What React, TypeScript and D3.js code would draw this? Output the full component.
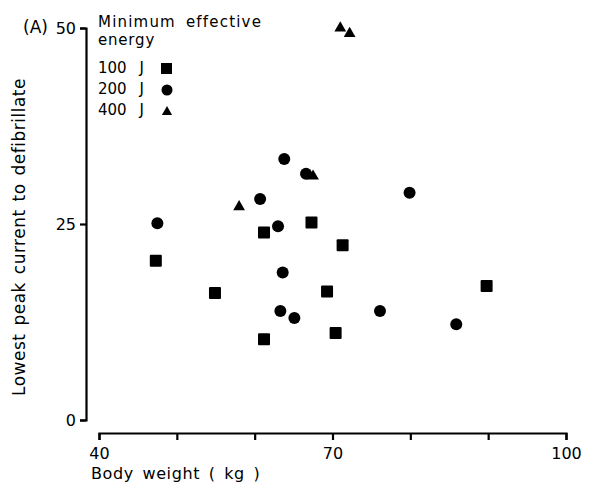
import { useEffect, useRef } from 'react';
import * as d3 from 'd3';

// Body weight (kg) and lowest peak current, per minimum effective energy
const weight100 = [47.3, 54.9, 61.2, 61.2, 67.3, 69.3, 70.4, 71.3, 89.8];
const current100 = [20.3, 16.2, 23.9, 10.3, 25.2, 16.4, 11.1, 22.3, 17.1];

const weight200 = [47.5, 60.7, 63.0, 63.6, 63.3, 63.8, 65.1, 66.6, 76.1, 79.9, 85.9];
const current200 = [25.1, 28.2, 24.7, 18.8, 13.9, 33.3, 13.0, 31.4, 13.9, 29.0, 12.2];

const weight400 = [58.0, 67.5, 71.0, 72.2];
const current400 = [27.2, 31.1, 50.0, 49.3];

const xTicks = [40, 50, 60, 70, 80, 90, 100];
const xLabels = [40, 70, 100];
const yTicks = [0, 25, 50];

const legendItems = ['100 J', '200 J', '400 J'];

const font = '"DejaVu Sans", sans-serif';

const Chart = () => {
  const svgRef = useRef<SVGSVGElement>(null);

  useEffect(() => {
    const width = 593;
    const height = 484;

    const svg = d3.select(svgRef.current)
      .attr('width', width)
      .attr('height', height)
      .style('background-color', '#ffffff');

    svg.selectAll('*').remove();

    const x = d3.scaleLinear().domain([40, 100]).range([99, 566]);
    const y = d3.scaleLinear().domain([0, 50]).range([420, 28]);

    // X axis
    const xAxis = svg.append('g')
      .attr('transform', 'translate(0, 433)')
      .call(d3.axisBottom(x).tickValues(xTicks).tickSize(7).tickSizeOuter(7)
        .tickFormat((d) => (xLabels.includes(+d) ? String(d) : '')));
    xAxis.selectAll('path, line').attr('stroke', '#000').attr('stroke-width', 2.2);
    xAxis.selectAll('text')
      .attr('y', 15)
      .style('font-family', font)
      .style('font-size', '16px')
      .attr('fill', '#000');

    // Y axis
    const yAxis = svg.append('g')
      .attr('transform', 'translate(86, 0)')
      .call(d3.axisLeft(y).tickValues(yTicks).tickSize(6).tickSizeOuter(6));
    yAxis.selectAll('path, line').attr('stroke', '#000').attr('stroke-width', 2.2);
    yAxis.selectAll('text')
      .attr('x', -10)
      .style('font-family', font)
      .style('font-size', '16px')
      .attr('fill', '#000');

    // Panel label
    svg.append('text')
      .attr('x', 23)
      .attr('y', 33)
      .style('font-family', font)
      .style('font-size', '17px')
      .text('(A)');

    // Markers
    const g = svg.append('g');
    g.selectAll('.sq')
      .data(weight100)
      .enter()
      .append('rect')
      .attr('x', (d) => x(d) - 6)
      .attr('y', (d, i) => y(current100[i]) - 6)
      .attr('width', 12)
      .attr('height', 12)
      .attr('rx', 1)
      .attr('fill', '#000');

    g.selectAll('.ci')
      .data(weight200)
      .enter()
      .append('circle')
      .attr('cx', (d) => x(d))
      .attr('cy', (d, i) => y(current200[i]))
      .attr('r', 6)
      .attr('fill', '#000');

    const tri = d3.symbol().type(d3.symbolTriangle).size(60);
    g.selectAll('.tr')
      .data(weight400)
      .enter()
      .append('path')
      .attr('d', tri)
      .attr('transform', (d, i) => `translate(${x(d)},${y(current400[i])})`)
      .attr('fill', '#000');

    // Legend
    const legend = svg.append('g')
      .style('font-family', font)
      .style('font-size', '15px');
    legend.append('text').attr('x', 98).attr('y', 27).text('Minimum effective')
      .style('letter-spacing', '1.2px').style('word-spacing', '4px');
    legend.append('text').attr('x', 98).attr('y', 45).text('energy').style('letter-spacing', '0.8px');
    legendItems.forEach((label, i) => {
      const ly = 68 + i * 21;
      legend.append('text').attr('x', 98).attr('y', ly + 5).text(label).style('word-spacing', '8px');
      if (i === 0) {
        legend.append('rect').attr('x', 161).attr('y', ly - 5).attr('width', 11).attr('height', 11).attr('fill', '#000');
      } else if (i === 1) {
        legend.append('circle').attr('cx', 167).attr('cy', ly + 1).attr('r', 5.5).attr('fill', '#000');
      } else {
        legend.append('path').attr('d', d3.symbol().type(d3.symbolTriangle).size(45)).attr('transform', `translate(167,${ly + 2})`).attr('fill', '#000');
      }
    });

    // Axis titles
    svg.append('text')
      .attr('x', 91)
      .attr('y', 479)
      .style('font-family', font)
      .style('font-size', '16px')
      .style('letter-spacing', '0.6px')
      .style('word-spacing', '3px')
      .text('Body weight ( kg )');

    svg.append('text')
      .attr('text-anchor', 'middle')
      .attr('transform', `translate(25, 237) rotate(-90)`)
      .style('font-family', font)
      .style('font-size', '17px')
      .style('letter-spacing', '0.5px')
      .style('word-spacing', '2px')
      .text('Lowest peak current to defibrillate');
  }, []);

  return <svg ref={svgRef} style={{ position: 'absolute', left: 0, top: 0 }}></svg>;
};

export default function App() {
  return <Chart />;
}
